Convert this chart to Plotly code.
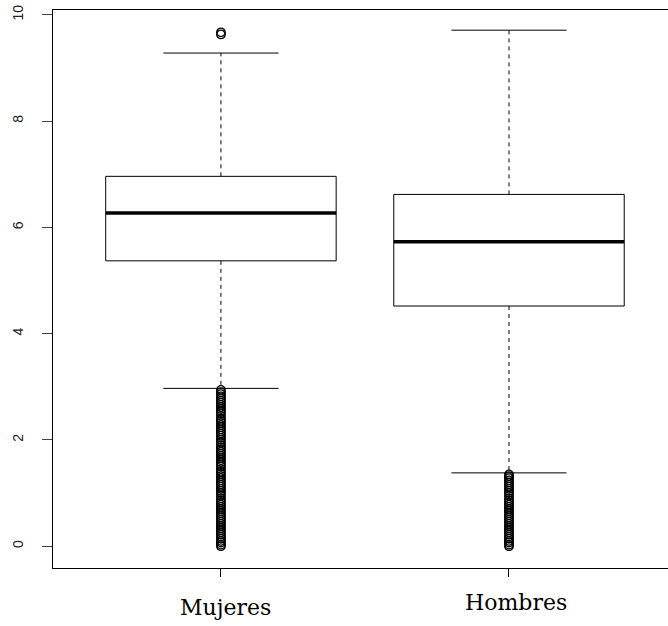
import plotly.graph_objects as go

categories = ["Mujeres", "Hombres"]
positions = [1, 2]
q1 = [5.37, 4.52]
median = [6.27, 5.73]
q3 = [6.96, 6.62]
lower_whisker = [2.97, 1.38]
upper_whisker = [9.28, 9.71]

outliers_mujeres = [0.0, 0.03, 0.07, 0.1, 0.14, 0.18, 0.22, 0.26, 0.3, 0.34, 0.38, 0.42, 0.46,
                    0.5, 0.54, 0.58, 0.62, 0.66, 0.7, 0.74, 0.78, 0.82, 0.86, 0.9, 0.95, 1.0,
                    1.04, 1.08, 1.12, 1.16, 1.2, 1.24, 1.28, 1.32, 1.36, 1.4, 1.45, 1.5, 1.54,
                    1.58, 1.62, 1.66, 1.7, 1.74, 1.78, 1.82, 1.86, 1.9, 1.95, 2.0, 2.04, 2.08,
                    2.12, 2.16, 2.2, 2.24, 2.28, 2.32, 2.36, 2.4, 2.45, 2.5, 2.54, 2.58, 2.62,
                    2.66, 2.7, 2.74, 2.78, 2.82, 2.86, 2.9, 2.94, 9.63, 9.67]
outliers_hombres = [0.0, 0.03, 0.07, 0.1, 0.14, 0.18, 0.22, 0.26, 0.3, 0.34, 0.38, 0.42, 0.46,
                    0.5, 0.54, 0.58, 0.62, 0.66, 0.7, 0.74, 0.78, 0.82, 0.86, 0.9, 0.95, 1.0,
                    1.04, 1.08, 1.12, 1.16, 1.2, 1.24, 1.28, 1.32, 1.35]

y_ticks = [0, 2, 4, 6, 8, 10]

BOX_HALF = 0.4
CAP_HALF = 0.2

fig = go.Figure()

for i, p in enumerate(positions):
    fig.add_trace(go.Scatter(
        x=[p - BOX_HALF, p + BOX_HALF, p + BOX_HALF, p - BOX_HALF, p - BOX_HALF],
        y=[q1[i], q1[i], q3[i], q3[i], q1[i]],
        mode="lines", line=dict(color="black", width=1), hoverinfo="skip"))
    fig.add_trace(go.Scatter(
        x=[p - BOX_HALF, p + BOX_HALF], y=[median[i], median[i]],
        mode="lines", line=dict(color="black", width=3.5), hoverinfo="skip"))
    fig.add_trace(go.Scatter(
        x=[p, p, None, p, p], y=[q3[i], upper_whisker[i], None, q1[i], lower_whisker[i]],
        mode="lines", line=dict(color="black", width=1, dash="4px,4px"), hoverinfo="skip"))
    fig.add_trace(go.Scatter(
        x=[p - CAP_HALF, p + CAP_HALF, None, p - CAP_HALF, p + CAP_HALF],
        y=[upper_whisker[i], upper_whisker[i], None, lower_whisker[i], lower_whisker[i]],
        mode="lines", line=dict(color="black", width=1), hoverinfo="skip"))

for p, vals in zip(positions, [outliers_mujeres, outliers_hombres]):
    fig.add_trace(go.Scatter(
        x=[p] * len(vals), y=vals, mode="markers",
        marker=dict(symbol="circle-open", size=8.5, color="black", line=dict(width=1.3)),
        hoverinfo="skip"))

label_x = [1.017, 2.026]
label_y = [-0.070, -0.062]
for lx, name, ly in zip(label_x, categories, label_y):
    fig.add_annotation(x=lx, y=ly, xref="x", yref="paper", text=name, showarrow=False,
                       font=dict(family="DejaVu Serif", size=22, color="black"),
                       yanchor="middle")

fig.update_layout(
    width=668, height=626,
    margin=dict(l=53, r=0, t=10, b=58, autoexpand=False),
    paper_bgcolor="white", plot_bgcolor="white",
    showlegend=False,
    xaxis=dict(range=[0.417, 2.552], tickvals=positions, ticktext=["", ""],
               ticks="outside", ticklen=8, tickcolor="black", automargin=False,
               showline=True, linecolor="black", linewidth=1, mirror=True,
               showgrid=False, zeroline=False),
    yaxis=dict(range=[-0.41, 10.09], tickvals=y_ticks,
               ticktext=[str(v) for v in y_ticks], automargin=False,
               tickangle=-90, ticks="outside", ticklen=10, tickcolor="#444",
               ticklabelstandoff=13,
               tickfont=dict(family="Liberation Sans", size=14, color="#222"),
               showline=True, linecolor="black", linewidth=1, mirror=False,
               showgrid=False, zeroline=False),
)

fig.write_html("out.html", config={"displayModeBar": False},
               post_script="document.body.style.margin='0';")
